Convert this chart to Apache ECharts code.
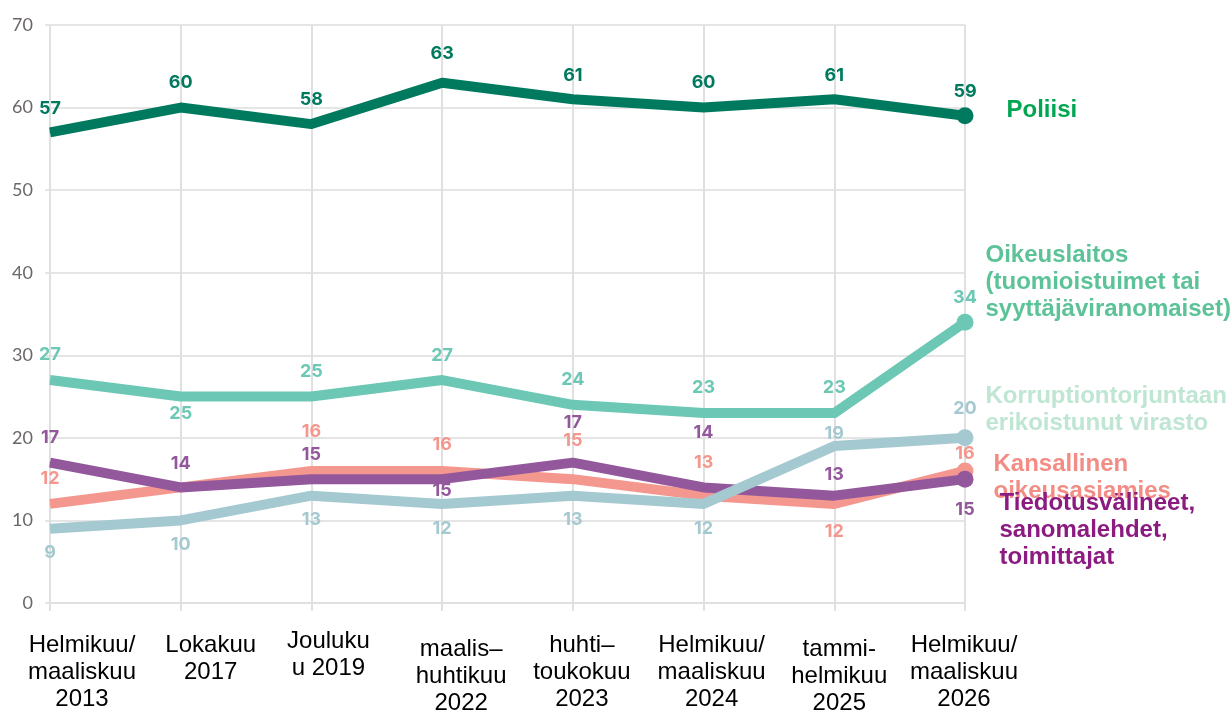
<!DOCTYPE html>
<html>
<head>
<meta charset="utf-8">
<title>Luottamus instituutioihin</title>
<script src="https://cdn.jsdelivr.net/npm/echarts@6/dist/echarts.min.js"></script>
<style>
  html, body { margin: 0; padding: 0; background: #ffffff; }
  #chart { width: 1232px; height: 710px; }
</style>
</head>
<body>
<div id="chart"></div>
<script>
// Survey rounds (x axis)
const periods = [
  'Helmikuu/\nmaaliskuu\n2013',
  'Lokakuu\n2017',
  'Jouluku\nu 2019',
  'maalis–\nhuhtikuu\n2022',
  'huhti–\ntoukokuu\n2023',
  'Helmikuu/\nmaaliskuu\n2024',
  'tammi-\nhelmikuu\n2025',
  'Helmikuu/\nmaaliskuu\n2026'
];

// Share of respondents (%) per institution
const poliisi          = [57, 60, 58, 63, 61, 60, 61, 59];
const oikeuslaitos     = [27, 25, 25, 27, 24, 23, 23, 34];
const korruptiovirasto = [9, 10, 13, 12, 13, 12, 19, 20];
const oikeusasiamies   = [12, 14, 16, 16, 15, 13, 12, 16];
const tiedotusvalineet = [17, 14, 15, 15, 17, 14, 13, 15];

// Series names as printed beside the line ends
const namePoliisi   = 'Poliisi';
const nameOikeus    = 'Oikeuslaitos\n(tuomioistuimet tai\nsyyttäjäviranomaiset)';
const nameKorruptio = 'Korruptiontorjuntaan\nerikoistunut virasto';
const nameAsiamies  = 'Kansallinen\noikeusasiamies';
const nameMedia     = 'Tiedotusvälineet,\nsanomalehdet,\ntoimittajat';

// Value axis
const yMin = 0, yMax = 70, yStep = 10;

// ---- presentation ----
const VALUE_FONT = 'Inter';
const TEXT_FONT = 'Liberation Sans';

// vertical gap of each value label from its point (px, + above, - below, null hidden)
const looks = {
  poliisi:   { color: '#007a5e', nameColor: '#00a651', nameOffset: [41, -5],
               gaps: [24, 25, 24, 29, 24, 25, 24, 24] },
  oikeus:    { color: '#6cc8b4', nameColor: '#5cc297', nameOffset: [20, -40],
               gaps: [25, -17, 25, 24, 25, 25, 25, 25] },
  asiamies:  { color: '#f4978e', nameColor: '#f38c84', nameOffset: [28, 7],
               gaps: [25, null, 39, 26, 39, 33, -28, 17] },
  media:     { color: '#93589c', nameColor: '#8b1b80', nameOffset: [34, 51],
               gaps: [25, 24, 25, -11, 40, 55, 21, -30] },
  korruptio: { color: '#a5c9d0', nameColor: '#bfe5d3', nameOffset: [20, -28],
               gaps: [-24, -24, -24, -25, -24, -25, 13, 29] }
};

// nudges of each category label: [down, right] in px
const labelNudge = [[4, 32], [4, 30], [0, 17], [8, 19], [4, 9], [4, 8], [8, 5], [4, -1]];

function makeSeries(name, values, look) {
  const last = values.length - 1;
  return {
    type: 'line',
    name: name,
    silent: true,
    symbol: 'circle',
    showSymbol: true,
    data: values.map(function (v, i) {
      const g = look.gaps[i];
      return {
        value: v,
        symbolSize: i === last ? 17 : 1,
        label: g == null ? { show: false } : { show: true, offset: [0, -g] }
      };
    }),
    lineStyle: { width: 10, color: look.color, cap: 'butt', join: 'round' },
    itemStyle: { color: look.color },
    label: {
      show: true,
      position: 'inside',
      color: look.color,
      fontFamily: VALUE_FONT,
      fontWeight: 700,
      fontSize: 18,
      formatter: function (p) { return String(p.value); }
    },
    emphasis: { disabled: true },
    markPoint: {
      silent: true,
      symbol: 'circle',
      symbolSize: 1,
      itemStyle: { color: 'rgba(0,0,0,0)' },
      label: {
        show: true,
        position: 'right',
        distance: 0,
        offset: look.nameOffset,
        align: 'left',
        color: look.nameColor,
        fontFamily: TEXT_FONT,
        fontWeight: 'bold',
        fontSize: 24,
        lineHeight: 27,
        formatter: function () { return name; }
      },
      data: [{ coord: [periods[last], values[last]] }]
    }
  };
}

const chart = echarts.init(document.getElementById('chart'), null, { renderer: 'canvas' });

chart.setOption({
  animation: false,
  backgroundColor: '#ffffff',
  grid: { left: 50, right: 267, top: 25, bottom: 107, containLabel: false, outerBoundsMode: 'none' },
  xAxis: {
    type: 'category',
    boundaryGap: false,
    data: periods.map(function (p, i) {
      const n = labelNudge[i];
      const dx = n[1];
      return {
        value: p,
        textStyle: { padding: [n[0], dx < 0 ? -2 * dx : 0, 0, dx > 0 ? 2 * dx : 0] }
      };
    }),
    axisLine: { show: true, lineStyle: { color: '#e0e0e0', width: 2 } },
    axisTick: { show: true, length: 8, interval: 0, lineStyle: { color: '#e0e0e0', width: 2 } },
    splitLine: { show: true, interval: 0, lineStyle: { color: '#e0e0e0', width: 2 } },
    axisLabel: {
      interval: 0,
      margin: 25,
      color: '#000000',
      fontFamily: TEXT_FONT,
      fontSize: 24,
      lineHeight: 27,
      align: 'center',
      verticalAlign: 'top'
    }
  },
  yAxis: {
    type: 'value',
    min: yMin,
    max: yMax,
    interval: yStep,
    axisLine: { show: false },
    axisTick: { show: true, length: 5, lineStyle: { color: '#dddddd', width: 1.5 } },
    splitLine: { show: true, lineStyle: { color: '#dddddd', width: 1.5 } },
    axisLabel: {
      margin: 17,
      color: '#6b6767',
      fontFamily: 'Lato',
      fontWeight: 400,
      fontSize: 18
    }
  },
  series: [
    makeSeries(namePoliisi, poliisi, looks.poliisi),
    makeSeries(nameOikeus, oikeuslaitos, looks.oikeus),
    makeSeries(nameAsiamies, oikeusasiamies, looks.asiamies),
    makeSeries(nameMedia, tiedotusvalineet, looks.media),
    makeSeries(nameKorruptio, korruptiovirasto, looks.korruptio)
  ]
});
</script>
</body>
</html>
